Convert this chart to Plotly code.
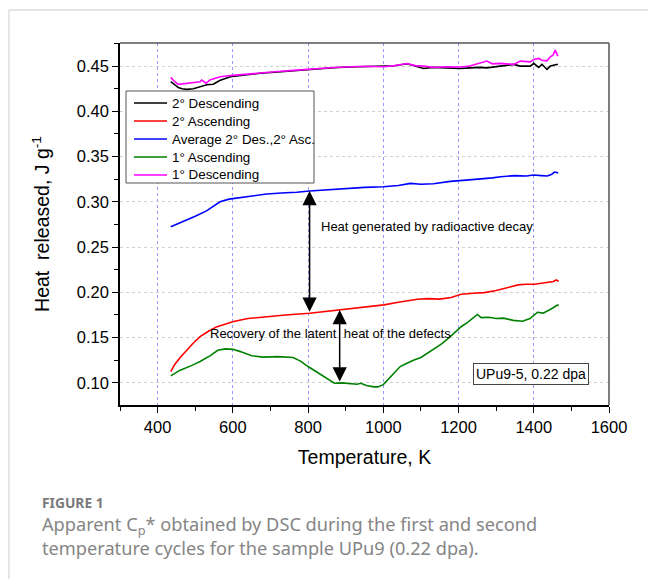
import numpy as np
import plotly.graph_objects as go

# ---------------- data ----------------
T_desc2 = [435, 445, 455, 465, 477, 495, 513, 531, 548, 565, 593, 630, 673, 720, 761, 800, 832, 868, 910, 957,
           1000, 1030, 1063, 1085, 1107, 1133, 1170, 1204, 1230, 1257, 1275, 1311, 1347, 1364, 1391, 1400,
           1413, 1422, 1435, 1444, 1457, 1464]
v_desc2 = [0.4327, 0.4290, 0.4262, 0.4250, 0.4243, 0.4250, 0.4272, 0.4294, 0.4300, 0.4340, 0.4382, 0.4400,
           0.4420, 0.4435, 0.4448, 0.4460, 0.4474, 0.4482, 0.4490, 0.4495, 0.4500, 0.4503, 0.4525, 0.4500,
           0.4474, 0.4486, 0.4480, 0.4474, 0.4480, 0.4486, 0.4480, 0.4500, 0.4519, 0.4500, 0.4500, 0.4530,
           0.4486, 0.4520, 0.4463, 0.4500, 0.4519, 0.4521]

T_desc1 = [435, 445, 455, 465, 477, 495, 513, 517, 529, 539, 552, 566, 593, 630, 673, 720, 761, 800, 832, 868,
           910, 957, 1000, 1030, 1063, 1085, 1107, 1133, 1170, 1204, 1230, 1257, 1275, 1290, 1311, 1347, 1364,
           1391, 1400, 1413, 1422, 1435, 1444, 1451, 1457, 1464]
v_desc1 = [0.4375, 0.4330, 0.4298, 0.4303, 0.4309, 0.4318, 0.4327, 0.4346, 0.4310, 0.4346, 0.4360, 0.4382,
           0.4395, 0.4410, 0.4425, 0.4440, 0.4452, 0.4465, 0.4474, 0.4485, 0.4492, 0.4498, 0.4493, 0.4505,
           0.4528, 0.4505, 0.4500, 0.4486, 0.4492, 0.4490, 0.4500, 0.4530, 0.4555, 0.4525, 0.4530, 0.4519,
           0.4555, 0.4547, 0.4574, 0.4585, 0.4565, 0.4558, 0.4603, 0.4620, 0.4677, 0.4610]

T_avg = [435, 450, 470, 500, 530, 566, 590, 620, 650, 690, 740, 770, 804, 850, 900, 950, 1000, 1040, 1072,
         1100, 1133, 1150, 1178, 1220, 1260, 1290, 1312, 1350, 1380, 1400, 1420, 1436, 1448, 1455, 1465]
v_avg = [0.2725, 0.2750, 0.2785, 0.2840, 0.2900, 0.3000, 0.3030, 0.3045, 0.3060, 0.3086, 0.3100, 0.3105,
         0.3120, 0.3135, 0.3150, 0.3160, 0.3167, 0.3180, 0.3204, 0.3195, 0.3200, 0.3210, 0.3226, 0.3240,
         0.3250, 0.3265, 0.3277, 0.3290, 0.3285, 0.3296, 0.3290, 0.3285, 0.3305, 0.3329, 0.3320]

T_asc2 = [435, 445, 460, 478, 495, 513, 535, 558, 580, 602, 640, 691, 740, 804, 850, 887, 920, 960, 1002,
          1040, 1070, 1091, 1120, 1150, 1180, 1207, 1240, 1268, 1300, 1330, 1358, 1380, 1402, 1420, 1440,
          1452, 1460, 1466]
v_asc2 = [0.1125, 0.1200, 0.1280, 0.1364, 0.1440, 0.1511, 0.1570, 0.1621, 0.1650, 0.1677, 0.1710, 0.1732,
          0.1750, 0.1769, 0.1790, 0.1806, 0.1820, 0.1840, 0.1861, 0.1890, 0.1910, 0.1924, 0.1930, 0.1925,
          0.1942, 0.1979, 0.1990, 0.1997, 0.2020, 0.2050, 0.2082, 0.2090, 0.2090, 0.2100, 0.2110, 0.2120,
          0.2137, 0.2120]

T_asc1 = [435, 460, 490, 513, 540, 560, 580, 600, 620, 650, 680, 720, 760, 780, 800, 830, 850, 870, 890,
          910, 930, 940, 955, 975, 985, 1000, 1015, 1030, 1045, 1060, 1080, 1100, 1115, 1135, 1155, 1175,
          1195, 1207, 1225, 1250, 1260, 1280, 1300, 1320, 1345, 1370, 1390, 1400, 1410, 1425, 1440, 1452,
          1462, 1467]
v_asc1 = [0.1077, 0.1140, 0.1190, 0.1235, 0.1300, 0.1360, 0.1375, 0.1370, 0.1345, 0.1300, 0.1284, 0.1290,
          0.1280, 0.1240, 0.1180, 0.1100, 0.1040, 0.0995, 0.1000, 0.0990, 0.0985, 0.0995, 0.0970, 0.0955,
          0.0955, 0.0980, 0.1050, 0.1120, 0.1180, 0.1210, 0.1250, 0.1280, 0.1320, 0.1370, 0.1430, 0.1500,
          0.1570, 0.1620, 0.1670, 0.1755, 0.1720, 0.1725, 0.1710, 0.1715, 0.1690, 0.1680, 0.1710, 0.1750,
          0.1780, 0.1770, 0.1800, 0.1830, 0.1860, 0.1855]

series_names = ["2° Descending", "2° Ascending", "Average 2° Des.,2° Asc.", "1° Ascending", "1° Descending"]
series_colors = ["#000000", "#ff0000", "#0000ff", "#008000", "#ff00ff"]

x_ticks = [400, 600, 800, 1000, 1200, 1400, 1600]
y_ticks = [0.10, 0.15, 0.20, 0.25, 0.30, 0.35, 0.40, 0.45]

T_arrow1 = 804
T_arrow2 = 884

# ---------------- figure ----------------
W, H = 648, 579
L, R, TOP, B = 120, 39, 43, 174
PW, PH = W - L - R, H - TOP - B


def px(p):
    return (p - L) / PW


def py(p):
    return (H - B - p) / PH


fig = go.Figure()
data = [(T_desc2, v_desc2), (T_asc2, v_asc2), (T_avg, v_avg), (T_asc1, v_asc1), (T_desc1, v_desc1)]
for (tx, vy), name, col in zip(data, series_names, series_colors):
    fig.add_trace(go.Scatter(x=tx, y=vy, mode="lines", name=name, showlegend=False,
                             line=dict(color=col, width=1.6)))

font_main = "Liberation Sans, Arial, sans-serif"
grid_blue = "rgba(80,80,255,0.6)"

fig.update_layout(
    width=W, height=H,
    margin=dict(l=L, r=R, t=TOP, b=B, pad=0),
    paper_bgcolor="white", plot_bgcolor="white",
    font=dict(family=font_main, color="black"),
    showlegend=False,
    xaxis=dict(range=[300, 1600], tickvals=x_ticks, ticks="outside", ticklen=6, tickwidth=1.2,
               tickcolor="black", showline=True, linecolor="black", linewidth=1.5,
               tickfont=dict(size=16.5), showgrid=True, gridcolor=grid_blue,
               griddash="3px,3px", gridwidth=1, zeroline=False,
               minor=dict(dtick=100, tick0=300, ticks="outside", ticklen=4, tickcolor="black",
                          showgrid=False),
               title=dict(text="Temperature, K", font=dict(size=19.5), standoff=16)),
    yaxis=dict(range=[0.0755, 0.4755], tickvals=y_ticks, tickformat=".2f", ticks="outside", ticklen=6,
               tickwidth=1.2, tickcolor="black", showline=True, linecolor="black", linewidth=1.5,
               tickfont=dict(size=16.5), showgrid=True, gridcolor="#d0d0d0", griddash="3px,3px",
               gridwidth=1, zeroline=False,
               minor=dict(dtick=0.025, tick0=0.075, ticks="outside", ticklen=4, tickcolor="black",
                          showgrid=False),
               title=dict(text="Heat  released, J g<sup>-1</sup>", font=dict(size=19.5), standoff=22)),
)

# top and right frame lines (gray)
fig.add_shape(type="line", xref="paper", yref="paper", x0=0, x1=1, y0=1, y1=1,
              line=dict(color="#555", width=1.5))
fig.add_shape(type="line", xref="paper", yref="paper", x0=1, x1=1, y0=0, y1=1,
              line=dict(color="#555", width=1.5))

# page border lines (light gray)
fig.add_shape(type="line", xref="paper", yref="paper", x0=px(9), x1=px(W), y0=py(10), y1=py(10),
              line=dict(color="#dcdcdc", width=1.5))
fig.add_shape(type="line", xref="paper", yref="paper", x0=px(9), x1=px(9), y0=py(10), y1=py(H),
              line=dict(color="#dcdcdc", width=1.5))

# legend (drawn by hand for exact spacing)
fig.add_shape(type="rect", xref="paper", yref="paper", x0=px(126), x1=px(314), y0=py(91), y1=py(183),
              line=dict(color="#555", width=1), fillcolor="white", layer="above")
for i, (name, col) in enumerate(zip(series_names, series_colors)):
    yc = 103 + 18 * i
    fig.add_shape(type="line", xref="paper", yref="paper", x0=px(134), x1=px(167), y0=py(yc), y1=py(yc),
                  line=dict(color=col, width=1.6), layer="above")
    fig.add_annotation(xref="paper", yref="paper", x=px(170), y=py(yc), text=name, showarrow=False,
                       xanchor="left", yanchor="middle", font=dict(size=13.4, family=font_main))

# double arrows, endpoints taken from the curves
a1_top = float(np.interp(T_arrow1, T_avg, v_avg))
a1_bot = float(np.interp(T_arrow1, T_asc2, v_asc2))
a2_top = float(np.interp(T_arrow2, T_asc2, v_asc2))
a2_bot = float(np.interp(T_arrow2, T_asc1, v_asc1))
for t, top, bot in [(T_arrow1, a1_top, a1_bot), (T_arrow2, a2_top, a2_bot)]:
    fig.add_annotation(x=t, y=top, ax=t, ay=bot, xref="x", yref="y", axref="x", ayref="y",
                       text="", showarrow=True, arrowhead=2, startarrowhead=2, arrowside="end+start",
                       arrowsize=1.9, startarrowsize=1.9, arrowwidth=1.5, arrowcolor="black",
                       standoff=0, startstandoff=0)

fig.add_annotation(xref="paper", yref="paper", x=px(427), y=py(226), text="Heat generated by radioactive decay",
                   showarrow=False, font=dict(size=13, family=font_main), xanchor="center", yanchor="middle")
fig.add_annotation(xref="paper", yref="paper", x=px(330), y=py(333),
                   text="Recovery of the latent  heat of the defects",
                   showarrow=False, font=dict(size=13, family=font_main), xanchor="center", yanchor="middle")
fig.add_annotation(xref="paper", yref="paper", x=px(531), y=py(374), text="UPu9-5, 0.22 dpa",
                   showarrow=False, font=dict(size=14, family=font_main), xanchor="center", yanchor="middle",
                   bordercolor="#444", borderwidth=1, borderpad=2, bgcolor="white")

# caption
cap_font = "Noto Sans, Open Sans, sans-serif"
fig.add_annotation(xref="paper", yref="paper", x=px(40), y=py(502), text="<b>FIGURE 1</b>",
                   showarrow=False, xanchor="left", yanchor="middle",
                   font=dict(size=13.8, family=cap_font, color="#7a7a7a"))
fig.add_annotation(xref="paper", yref="paper", x=px(40), y=py(536), align="left",
                   text="Apparent C<sub>p</sub>* obtained by DSC during the first and second<br>"
                        "temperature cycles for the sample UPu9 (0.22 dpa).",
                   showarrow=False, xanchor="left", yanchor="middle",
                   font=dict(size=18.2, family=cap_font, color="#858585"))

fig.write_html("out.html")
